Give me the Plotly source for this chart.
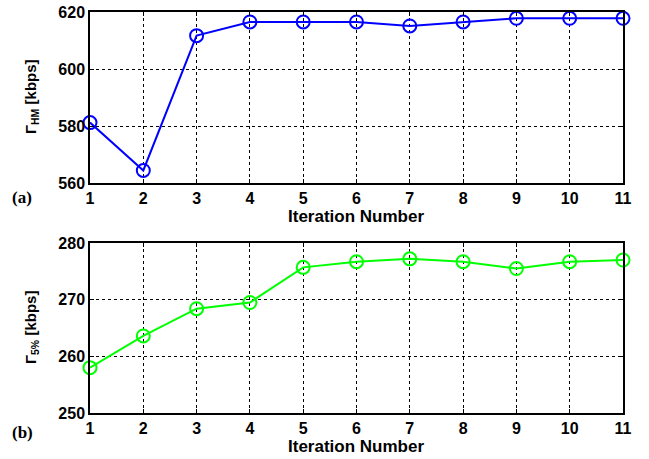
import plotly.graph_objects as go

iterations = [1, 2, 3, 4, 5, 6, 7, 8, 9, 10, 11]
gamma_hm = [581.2, 564.4, 611.7, 616.5, 616.5, 616.5, 615.1, 616.5, 617.8, 617.8, 617.8]
gamma_5 = [258.0, 263.6, 268.4, 269.5, 275.7, 276.7, 277.2, 276.7, 275.5, 276.7, 277.0]
x_ticks = [1, 2, 3, 4, 5, 6, 7, 8, 9, 10, 11]
y_ticks_top = [560, 580, 600, 620]
y_ticks_bot = [250, 260, 270, 280]

FONT = "Liberation Sans"
W, H = 649, 459
L, R, T, B = 90, 26, 12, 46
PW, PH = W - L - R, H - T - B

def px_x(x):
    return (x - L) / PW

def px_y(y):
    return (H - B - y) / PH

fig = go.Figure()
fig.add_trace(go.Scatter(x=iterations, y=gamma_hm, mode="lines+markers",
                         line=dict(color="#0000ff", width=2),
                         marker=dict(symbol="circle-open", size=13, color="#0000ff", line=dict(width=2)),
                         xaxis="x", yaxis="y", showlegend=False, cliponaxis=False))
fig.add_trace(go.Scatter(x=iterations, y=gamma_5, mode="lines+markers",
                         line=dict(color="#00ff00", width=2),
                         marker=dict(symbol="circle-open", size=13, color="#00ff00", line=dict(width=2)),
                         xaxis="x2", yaxis="y2", showlegend=False, cliponaxis=False))

ax_common = dict(showline=True, mirror="ticks", linecolor="black", linewidth=1.5,
                 ticks="inside", ticklen=4, tickcolor="black",
                 showgrid=True, gridcolor="black", griddash="dot", gridwidth=1,
                 zeroline=False, automargin=False,
                 tickfont=dict(family=FONT, size=16, color="black", weight="bold"))

fig.update_layout(
    width=W, height=H,
    margin=dict(l=L, r=R, t=T, b=B, autoexpand=False),
    paper_bgcolor="white", plot_bgcolor="white",
    xaxis=dict(domain=[0, 1], range=[1, 11], tickvals=x_ticks, anchor="y", **ax_common),
    yaxis=dict(domain=[px_y(183), 1], range=[560, 620], tickvals=y_ticks_top, anchor="x", **ax_common),
    xaxis2=dict(domain=[0, 1], range=[1, 11], tickvals=x_ticks, anchor="y2", **ax_common),
    yaxis2=dict(domain=[0, px_y(243)], range=[250, 280], tickvals=y_ticks_bot, anchor="x2", **ax_common),
)

title_font = dict(family=FONT, size=17, color="black", weight="bold")
ytitle_font = dict(family=FONT, size=15, color="black", weight="bold")
label_font = dict(family="Liberation Serif", size=17, color="black", weight="bold")
fig.update_layout(annotations=[
    dict(text="Iteration Number", xref="paper", yref="paper", x=px_x(356), y=px_y(216),
         showarrow=False, font=title_font, xanchor="center", yanchor="middle"),
    dict(text="Iteration Number", xref="paper", yref="paper", x=px_x(356), y=px_y(446),
         showarrow=False, font=title_font, xanchor="center", yanchor="middle"),
    dict(text="Γ<sub>HM</sub> [kbps]", xref="paper", yref="paper", x=px_x(31), y=px_y(97),
         showarrow=False, font=ytitle_font, textangle=-90, xanchor="center", yanchor="middle"),
    dict(text="Γ<sub>5%</sub> [kbps]", xref="paper", yref="paper", x=px_x(31), y=px_y(328),
         showarrow=False, font=ytitle_font, textangle=-90, xanchor="center", yanchor="middle"),
    dict(text="(a)", xref="paper", yref="paper", x=px_x(22), y=px_y(197),
         showarrow=False, font=label_font, xanchor="center", yanchor="middle"),
    dict(text="(b)", xref="paper", yref="paper", x=px_x(22), y=px_y(432),
         showarrow=False, font=label_font, xanchor="center", yanchor="middle"),
])

fig.write_html("out.html", config={"displayModeBar": False},
               post_script="document.body.style.margin='0';")
